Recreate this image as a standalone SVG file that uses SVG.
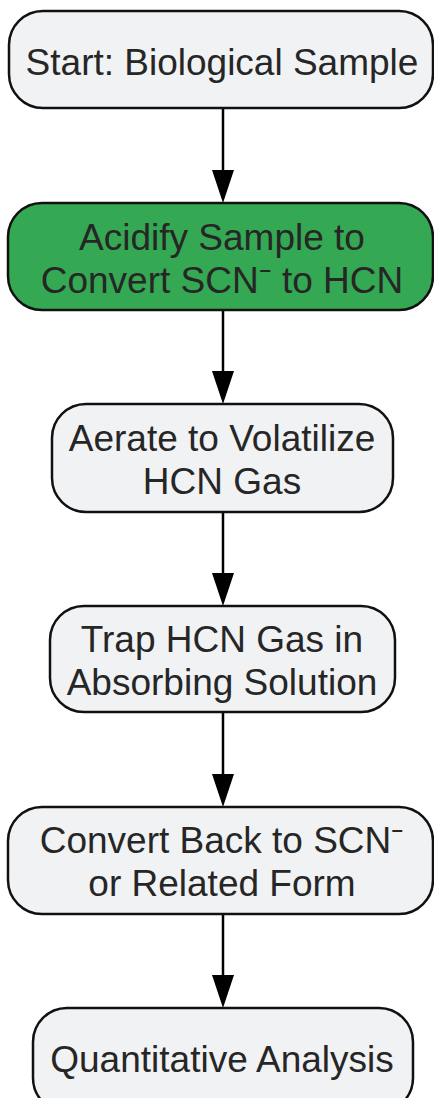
<svg xmlns="http://www.w3.org/2000/svg" width="434" height="1098" viewBox="0 0 434 1098">
<style>
.n{fill:#f1f2f4;stroke:#111;stroke-width:2.5}
.g{fill:#34a853}
.t{font-family:"Liberation Sans",Arial,sans-serif;font-size:37px;fill:#262626;text-anchor:middle}
.e{stroke:#000;stroke-width:2.5;fill:none}
</style>
<g id="connectors">
<line class="e" x1="223" y1="108" x2="223" y2="170"/><path d="M212,170 L234,170 L223,203 Z"/>
<line class="e" x1="223" y1="310" x2="223" y2="371"/><path d="M212,371 L234,371 L223,404 Z"/>
<line class="e" x1="223" y1="512" x2="223" y2="573"/><path d="M212,573 L234,573 L223,606 Z"/>
<line class="e" x1="223" y1="712" x2="223" y2="774"/><path d="M212,774 L234,774 L223,807 Z"/>
<line class="e" x1="223" y1="914" x2="223" y2="975"/><path d="M212,975 L234,975 L223,1008 Z"/>
</g>
<g id="n1"><rect class="n" x="9" y="11" width="424" height="97" rx="34"/><text class="t" x="222" y="75">Start: Biological Sample</text></g>
<g id="n2"><rect class="n g" x="8" y="203" width="425" height="107" rx="34"/><text class="t" x="222" y="250">Acidify Sample to</text><text class="t" x="222" y="293">Convert SCN⁻ to HCN</text></g>
<g id="n3"><rect class="n" x="52" y="404" width="341" height="108" rx="34"/><text class="t" x="222" y="451">Aerate to Volatilize</text><text class="t" x="222" y="494">HCN Gas</text></g>
<g id="n4"><rect class="n" x="50" y="606" width="345" height="106" rx="34"/><text class="t" x="222" y="652">Trap HCN Gas in</text><text class="t" x="222" y="695">Absorbing Solution</text></g>
<g id="n5"><rect class="n" x="8" y="807" width="425" height="107" rx="34"/><text class="t" x="222" y="853">Convert Back to SCN⁻</text><text class="t" x="222" y="896">or Related Form</text></g>
<g id="n6"><rect class="n" x="33" y="1008" width="380" height="104" rx="34"/><text class="t" x="222" y="1072">Quantitative Analysis</text></g>
</svg>
